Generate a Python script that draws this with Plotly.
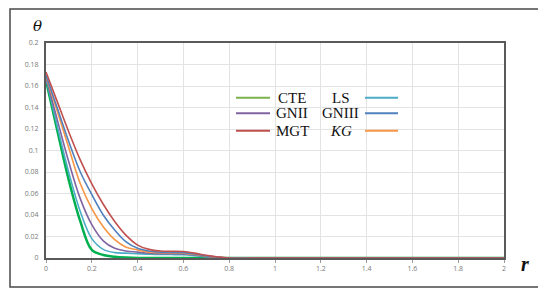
import plotly.graph_objects as go

r = [0, 0.05, 0.1, 0.15, 0.2, 0.25, 0.3, 0.35, 0.4, 0.45, 0.5, 0.55, 0.6, 0.65, 0.7, 0.75, 0.8, 1.0, 1.5, 2.0]

cte   = [0.165, 0.118, 0.072, 0.034, 0.0075, 0.0028, 0.0012, 0.0004, 0, 0, 0, 0, 0, 0, 0, 0, 0, 0, 0, 0]
ls    = [0.167, 0.122, 0.079, 0.043, 0.018, 0.008, 0.005, 0.0045, 0.004, 0.0035, 0.0032, 0.0032, 0.003, 0.0022, 0.0012, 0.0004, 0, 0, 0, 0]
gnii  = [0.168, 0.128, 0.089, 0.055, 0.031, 0.016, 0.009, 0.0065, 0.0055, 0.0045, 0.004, 0.004, 0.0038, 0.0028, 0.0015, 0.0005, 0, 0, 0, 0]
kg    = [0.169, 0.136, 0.102, 0.069, 0.046, 0.029, 0.017, 0.010, 0.0075, 0.0055, 0.005, 0.005, 0.0045, 0.0033, 0.0018, 0.0006, 0, 0, 0, 0]
gniii = [0.170, 0.139, 0.108, 0.080, 0.059, 0.040, 0.026, 0.015, 0.009, 0.0065, 0.0055, 0.0055, 0.005, 0.0038, 0.002, 0.0008, 0, 0, 0, 0]
mgt   = [0.173, 0.145, 0.117, 0.091, 0.069, 0.050, 0.034, 0.021, 0.012, 0.008, 0.0065, 0.0063, 0.006, 0.0045, 0.0025, 0.001, 0, 0, 0, 0]

names = ["CTE", "LS", "GNII", "KG", "GNIII", "MGT"]
series = [cte, ls, gnii, kg, gniii, mgt]
curve_colors = ["#00B050", "#4BACC6", "#8064A2", "#F79646", "#4F81BD", "#C0504D"]
widths = [2.5, 1.6, 1.6, 1.6, 1.6, 1.6]

fig = go.Figure()
for n, s, c, w in zip(names, series, curve_colors, widths):
    fig.add_trace(go.Scatter(x=r, y=s, mode="lines", name=n,
                             line=dict(color=c, width=w, shape="spline", smoothing=1.0),
                             showlegend=False))

axis_common = dict(showgrid=True, gridcolor="#E3E3E3", gridwidth=1,
                   showline=True, linecolor="#5A5A5A", linewidth=2, mirror=True,
                   zeroline=False, ticks="outside", ticklen=3, tickcolor="#9A9A9A",
                   tickfont=dict(family="Open Sans", size=7, color="#7A7A7A"),
                   layer="below traces")

fig.update_xaxes(range=[0, 2], dtick=0.2, **axis_common)
fig.update_yaxes(range=[0, 0.2], dtick=0.02, **axis_common)
fig.update_yaxes(ticks="", ticklabelstandoff=4)

OFF = 8  # browser body margin
W, H = 546, 296
# desired plot area in page pixels
PL, PR, PT, PB = 46, 504, 43, 258
L = PL - OFF
T = PT - OFF
R = W - (PR - OFF)
B = H - (PB - OFF)
pw, ph = PR - PL, PB - PT

def px(x):
    return (x - PL) / pw

def py(y):
    return (PB - y) / ph

shapes = []
# outer frame
shapes.append(dict(type="rect", xref="paper", yref="paper",
                   x0=px(10), x1=px(540), y0=py(287), y1=py(9),
                   line=dict(color="#4A4A4A", width=1.5), fillcolor="rgba(0,0,0,0)", layer="below"))

# custom legend
legend_left = [("CTE", "#7DB24C", 97.7), ("GNII", "#8064A2", 113.3), ("MGT", "#C0504D", 130.7)]
legend_right = [("LS", "#4BACC6", 97.7), ("GNIII", "#4F81BD", 113.3), ("KG", "#F79646", 130.7)]
annotations = []
for lab, col, yy in legend_left:
    shapes.append(dict(type="line", xref="paper", yref="paper", x0=px(236), x1=px(270),
                       y0=py(yy), y1=py(yy), line=dict(color=col, width=2)))
    annotations.append(dict(xref="paper", yref="paper", x=px(292), y=py(yy), text=lab,
                            showarrow=False, xanchor="center", yanchor="middle",
                            font=dict(family="Liberation Serif", size=15, color="#111111")))
for lab, col, yy in legend_right:
    shapes.append(dict(type="line", xref="paper", yref="paper", x0=px(365), x1=px(398),
                       y0=py(yy), y1=py(yy), line=dict(color=col, width=2)))
    txt = "<i>KG</i>" if lab == "KG" else lab
    annotations.append(dict(xref="paper", yref="paper", x=px(340.5), y=py(yy), text=txt,
                            showarrow=False, xanchor="center", yanchor="middle",
                            font=dict(family="Liberation Serif", size=15, color="#111111")))

annotations.append(dict(xref="paper", yref="paper", x=px(37), y=py(26), text="<i>θ</i>",
                        showarrow=False, xanchor="center", yanchor="middle",
                        font=dict(family="DejaVu Serif", size=15, color="#111111")))
annotations.append(dict(xref="paper", yref="paper", x=px(525), y=py(264), text="<b><i>r</i></b>",
                        showarrow=False, xanchor="center", yanchor="middle",
                        font=dict(family="Liberation Serif", size=20, color="#111111")))

fig.update_layout(width=W, height=H, margin=dict(l=L, r=R, t=T, b=B),
                  plot_bgcolor="white", paper_bgcolor="white",
                  shapes=shapes, annotations=annotations, showlegend=False)

fig.write_html("out.html")
